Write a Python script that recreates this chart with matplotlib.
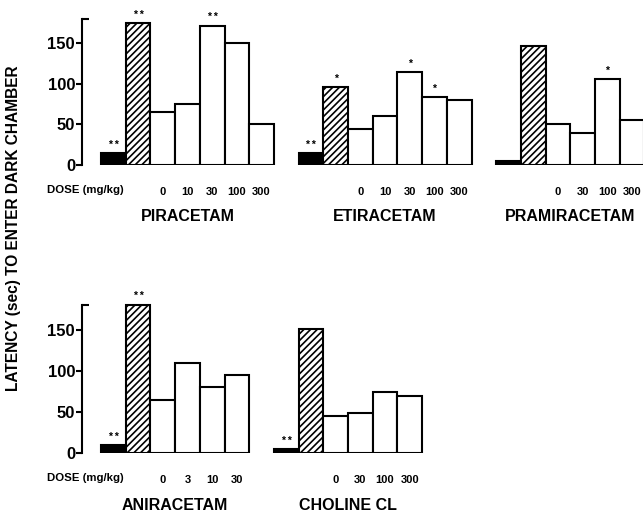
import matplotlib
matplotlib.use('Agg')
import matplotlib.pyplot as plt
from matplotlib.ticker import FixedLocator

plt.rcParams['font.family'] = ['Liberation Sans', 'DejaVu Sans']
plt.rcParams['font.weight'] = 'bold'
plt.rcParams['hatch.linewidth'] = 1.2

# latency values (sec): [black control, hatched control, doses...]
piracetam = [15, 175, 66, 75, 172, 151, 50]
piracetam_doses = ['0', '10', '30', '100', '300']
piracetam_stars = ['**', '**', '', '', '**', '', '']

etiracetam = [15, 96, 45, 60, 115, 84, 80]
etiracetam_doses = ['0', '10', '30', '100', '300']
etiracetam_stars = ['**', '*', '', '', '*', '*', '']

pramiracetam = [5, 147, 50, 40, 106, 55]
pramiracetam_doses = ['0', '30', '100', '300']
pramiracetam_stars = ['', '', '', '', '*', '']

aniracetam = [10, 181, 65, 110, 80, 95]
aniracetam_doses = ['0', '3', '10', '30']
aniracetam_stars = ['**', '**', '', '', '', '']

choline = [5, 151, 45, 49, 75, 70]
choline_doses = ['0', '30', '100', '300']
choline_stars = ['**', '', '', '', '', '']

top_row = [('PIRACETAM', piracetam, piracetam_doses, piracetam_stars),
           ('ETIRACETAM', etiracetam, etiracetam_doses, etiracetam_stars),
           ('PRAMIRACETAM', pramiracetam, pramiracetam_doses, pramiracetam_stars)]
bottom_row = [('ANIRACETAM', aniracetam, aniracetam_doses, aniracetam_stars),
              ('CHOLINE CL', choline, choline_doses, choline_stars)]

fig = plt.figure(figsize=(6.43, 5.14), dpi=100)
W, H = 643, 514
unit = 24.7  # px per bar
left_px = 82
xmin = -(101 - left_px) / unit
xmax = xmin + (W - left_px) / unit


def draw_row(ax, groups):
    pos = 0
    tick_pos, tick_lab = [], []
    for name, vals, doses, stars in groups:
        xs = [pos + i + 0.5 for i in range(len(vals))]
        for i, (x, v) in enumerate(zip(xs, vals)):
            if i == 0:
                ax.bar(x, v, width=1, color='black', edgecolor='black', linewidth=1.5)
            elif i == 1:
                ax.bar(x, v, width=1, color='white', edgecolor='black', linewidth=1.5, hatch='/////')
            else:
                ax.bar(x, v, width=1, color='white', edgecolor='black', linewidth=1.5)
            if stars[i]:
                ax.text(x, v + 4, ' '.join(stars[i]), ha='center', va='bottom',
                        fontsize=7.5, clip_on=False)
        tick_pos += xs[2:]
        tick_lab += doses
        ax.text(pos + len(vals) / 2, -64, name, ha='center', va='center',
                fontsize=11.5, clip_on=False)
        pos += len(vals) + 1
    ax.set_xticks(tick_pos)
    ax.set_xticklabels(tick_lab, fontsize=8)
    ax.tick_params(axis='x', length=0, pad=16)
    ax.text(xmin - 1.42, -31, 'DOSE (mg/kg)', ha='left', va='center',
            fontsize=8.2, clip_on=False)
    ax.set_xlim(xmin, xmax)
    ax.set_ylim(0, 185)
    for s in ['top', 'right', 'bottom']:
        ax.spines[s].set_visible(False)
    ax.spines['left'].set_bounds(0, 180)
    ax.spines['left'].set_linewidth(1.5)
    ax.set_yticks([0, 50, 100, 150])
    ax.tick_params(axis='y', direction='out', length=4, width=1.5, labelsize=12, pad=1)
    ax.yaxis.set_minor_locator(FixedLocator([0, 180]))
    ax.tick_params(axis='y', which='minor', direction='in', length=5, width=1.5)


ax1 = fig.add_axes([left_px / W, (H - 165) / H, (W - left_px) / W, 185 * 0.81 / H])
draw_row(ax1, top_row)
ax2 = fig.add_axes([left_px / W, (H - 453) / H, (W - left_px) / W, 185 * 0.82 / H])
draw_row(ax2, bottom_row)

fig.text(14 / W, 1 - 228 / H, 'LATENCY (sec) TO ENTER DARK CHAMBER', rotation=90,
         ha='center', va='center', fontsize=11.2)

fig.savefig('out.png', dpi=100)
